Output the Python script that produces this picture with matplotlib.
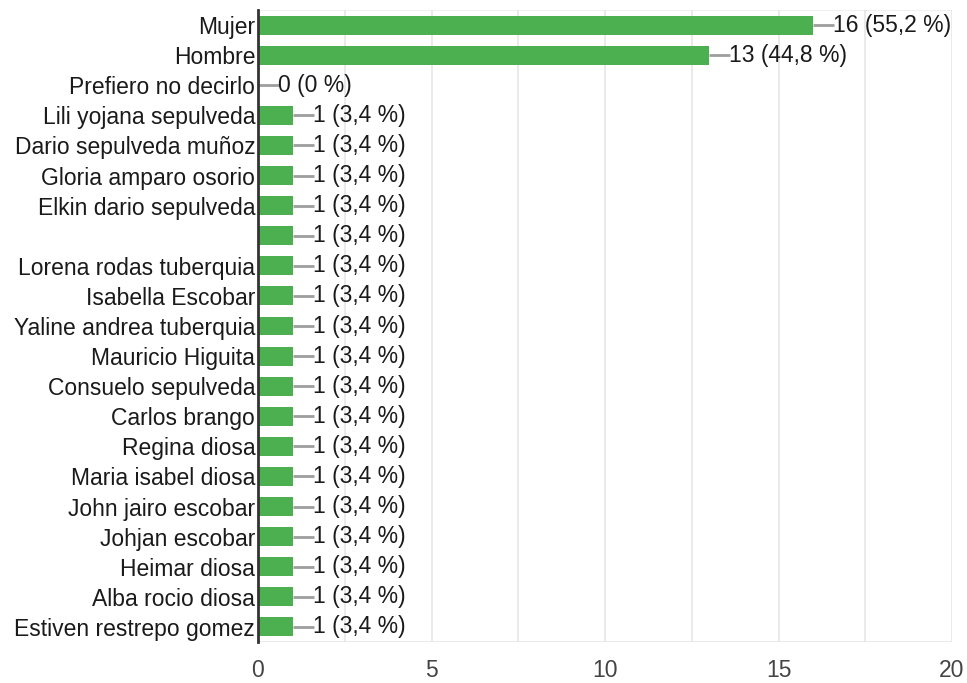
import matplotlib.pyplot as plt
import numpy as np

plt.rcParams['font.family'] = ['Liberation Sans', 'DejaVu Sans']

# Categories and counts
categories = ['Mujer', 'Hombre', 'Prefiero no decirlo', 'Lili yojana sepulveda',
              'Dario sepulveda muñoz', 'Gloria amparo osorio', 'Elkin dario sepulveda',
              '', 'Lorena rodas tuberquia', 'Isabella Escobar', 'Yaline andrea tuberquia',
              'Mauricio Higuita', 'Consuelo sepulveda', 'Carlos brango', 'Regina diosa',
              'Maria isabel diosa', 'John jairo escobar', 'Johjan escobar', 'Heimar diosa',
              'Alba rocio diosa', 'Estiven restrepo gomez']
counts = [16, 13, 0, 1, 1, 1, 1, 1, 1, 1, 1, 1, 1, 1, 1, 1, 1, 1, 1, 1, 1]
percents = ['55,2', '44,8', '0', '3,4', '3,4', '3,4', '3,4', '3,4', '3,4', '3,4', '3,4',
            '3,4', '3,4', '3,4', '3,4', '3,4', '3,4', '3,4', '3,4', '3,4', '3,4']

fig = plt.figure(figsize=(9.67, 6.83), dpi=100)
ax = fig.add_axes([258 / 967, 1 - 642 / 683, (952 - 258) / 967, (642 - 10) / 683])

y = np.arange(len(categories))
ax.barh(y, counts, height=0.63, color='#4caf50', zorder=3)

fs = 16.5

# connector lines and value labels
for yi, c, p in zip(y, counts, percents):
    ax.plot([c, c + 0.6], [yi, yi], color='#9e9e9e', lw=2, zorder=2, solid_capstyle='butt')
    ax.text(c + 0.58, yi, f'{c} ({p} %)', va='center', ha='left', fontsize=fs,
            color='#1a1a1a', zorder=4)

ax.set_yticks(y)
ax.set_yticklabels(categories, fontsize=fs, color='#1a1a1a')
ax.set_ylim(len(categories) - 0.5, -0.5)
ax.set_xlim(0, 20)
ax.set_xticks([0, 5, 10, 15, 20])
ax.set_xticks(np.arange(0, 20.1, 2.5), minor=True)
ax.tick_params(axis='y', length=0, pad=2)
ax.tick_params(axis='x', which='both', length=0, labelsize=fs, labelcolor='#444444', pad=12)
ax.grid(True, axis='x', which='both', color='#e6e6e6', lw=1.2, zorder=0)

for s in ['top', 'right', 'bottom']:
    ax.spines[s].set_visible(False)
ax.spines['left'].set_color('#333333')
ax.spines['left'].set_linewidth(2)
ax.spines['left'].set_zorder(5)
ax.axhline(len(categories) - 0.5, color='#e6e6e6', lw=1.2, zorder=0)
ax.axhline(-0.5, color='#eeeeee', lw=1.2, zorder=0)

plt.savefig('out.png', dpi=100)
